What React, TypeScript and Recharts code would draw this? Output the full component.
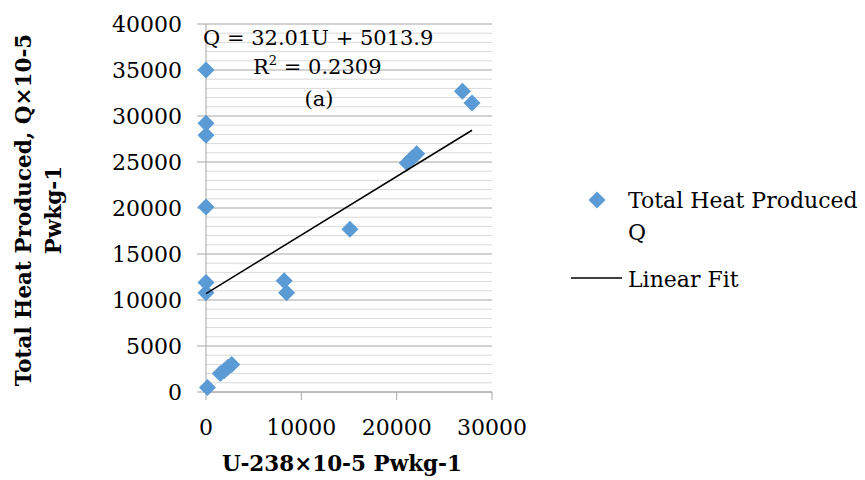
import React from 'react';
import {
  ComposedChart,
  Scatter,
  XAxis,
  YAxis,
  CartesianGrid,
  ReferenceLine,
} from 'recharts';

const uValues = [0, 0, 0, 0, 0, 0, 150, 1500, 1900, 2300, 2700, 8200, 8450, 15100, 21100, 21600, 22100, 26900, 27900];
const qValues = [35000, 29200, 27900, 20100, 11900, 10800, 500, 2000, 2300, 2700, 3000, 12100, 10800, 17700, 24900, 25400, 25900, 32700, 31400];

const fitU = [0, 27900];
const fitQ = [10700, 28450];

const xTicks = [0, 10000, 20000, 30000];
const yTicks = [0, 5000, 10000, 15000, 20000, 25000, 30000, 35000, 40000];
const minorY = [1000, 2000, 3000, 4000, 6000, 7000, 8000, 9000, 11000, 12000, 13000, 14000, 16000, 17000, 18000, 19000, 21000, 22000, 23000, 24000, 26000, 27000, 28000, 29000, 31000, 32000, 33000, 34000, 36000, 37000, 38000, 39000];

const seriesName = 'Total Heat Produced Q';
const fitName = 'Linear Fit';
const equationText = 'Q = 32.01U + 5013.9';
const r2Value = '0.2309';
const panelLabel = '(a)';
const xTitle = 'U-238×10-5 Pwkg-1';
const yTitle1 = 'Total Heat Produced, Q×10-5';
const yTitle2 = 'Pwkg-1';

const points = uValues.map((u, i) => ({ u, q: qValues[i] }));
const fitPoints = fitU.map((u, i) => ({ u, q: fitQ[i] }));

const FONT = '"DejaVu Serif", serif';
const BLUE = '#5B9BD5';

const Diamond = (props: any) => {
  const { cx, cy } = props;
  if (cx == null || cy == null) return <g />;
  const h = 8.5;
  return (
    <polygon
      points={`${cx},${cy - h} ${cx + h},${cy} ${cx},${cy + h} ${cx - h},${cy}`}
      fill={BLUE}
    />
  );
};

const NoShape = () => <g />;

export default function App() {
  return (
    <div style={{ position: 'absolute', left: 0, top: 0, width: 865, height: 480, background: '#fff' }}>
      <ComposedChart
        width={865}
        height={480}
        margin={{ top: 24, right: 373, bottom: 48, left: 106 }}
        data={points}
      >
        <CartesianGrid horizontal vertical={false} stroke="#a6a6a6" strokeWidth={1} />
        {minorY.map((v) => (
          <ReferenceLine key={v} y={v} stroke="#d9d9d9" strokeWidth={1} />
        ))}
        <XAxis
          type="number"
          dataKey="u"
          domain={[0, 30000]}
          ticks={xTicks}
          interval={0}
          height={40}
          tickSize={8}
          tickMargin={19}
          stroke="#a6a6a6"
          tick={{ fill: '#000', fontSize: 22, fontFamily: FONT }}
          allowDataOverflow={false}
        />
        <YAxis
          type="number"
          dataKey="q"
          domain={[0, 40000]}
          ticks={yTicks}
          interval={0}
          width={100}
          tickSize={9}
          tickMargin={15}
          stroke="#a6a6a6"
          tick={{ fill: '#000', fontSize: 22, fontFamily: FONT }}
        />
        <Scatter
          name={seriesName}
          data={points}
          dataKey="q"
          shape={<Diamond />}
          isAnimationActive={false}
        />
        <Scatter
          name={fitName}
          data={fitPoints}
          dataKey="q"
          line={{ stroke: '#000', strokeWidth: 1.5 }}
          shape={<NoShape />}
          isAnimationActive={false}
        />
      </ComposedChart>
      <svg
        width={865}
        height={480}
        style={{ position: 'absolute', left: 0, top: 0, pointerEvents: 'none' }}
      >
        <text x={203} y={45} fontFamily={FONT} fontSize={21} fill="#000">{equationText}</text>
        <text x={253} y={74} fontFamily={FONT} fontSize={21} fill="#000">
          R<tspan fontSize={13} dy={-9}>2</tspan><tspan dy={9}> = {r2Value}</tspan>
        </text>
        <text x={319} y={106} textAnchor="middle" fontFamily={FONT} fontSize={21} fill="#000">{panelLabel}</text>

        <text x={342} y={471} textAnchor="middle" fontFamily={FONT} fontWeight="bold" fontSize={21.5} fill="#000">{xTitle}</text>
        <text transform="translate(31,210) rotate(-90)" textAnchor="middle" fontFamily={FONT} fontWeight="bold" fontSize={21.5} fill="#000">{yTitle1}</text>
        <text transform="translate(61,210) rotate(-90)" textAnchor="middle" fontFamily={FONT} fontWeight="bold" fontSize={21.5} fill="#000">{yTitle2}</text>

        <polygon points="597,191.5 605.5,200 597,208.5 588.5,200" fill={BLUE} />
        <text x={628} y={208} fontFamily={FONT} fontSize={22} fill="#000">Total Heat Produced</text>
        <text x={628} y={240} fontFamily={FONT} fontSize={22} fill="#000">Q</text>
        <line x1={571} y1={278} x2={622} y2={278} stroke="#000" strokeWidth={1.5} />
        <text x={628} y={287} fontFamily={FONT} fontSize={22} fill="#000">{fitName}</text>
      </svg>
    </div>
  );
}
